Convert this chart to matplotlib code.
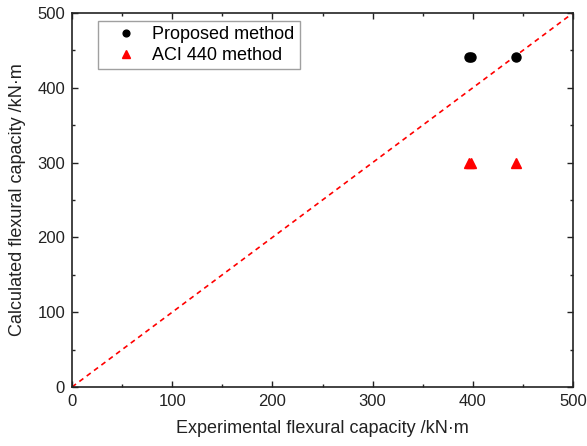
import numpy as np
import matplotlib
matplotlib.use('Agg')
import matplotlib.pyplot as plt
from matplotlib.ticker import MultipleLocator

plt.rcParams['font.family'] = ['Liberation Sans', 'DejaVu Sans']

exp_vals = [396, 398, 443]
proposed = [441, 441, 441]
aci440 = [300, 300, 300]
line_x = [0, 500]

fig = plt.figure(figsize=(5.87, 4.46), dpi=100)
ax = fig.add_axes([72 / 587, 59 / 446, 501 / 587, 374 / 446])

ax.plot(line_x, line_x, color='red', linestyle=(0, (3, 2.5)), linewidth=1.2, zorder=1)
ax.plot(exp_vals, proposed, 'o', color='black', markersize=6.5, linestyle='none',
        label='Proposed method', zorder=3)
ax.plot(exp_vals, aci440, '^', color='red', markersize=7, linestyle='none',
        label='ACI 440 method', zorder=3)

ax.set_xlim(0, 500)
ax.set_ylim(0, 500)
ax.xaxis.set_major_locator(MultipleLocator(100))
ax.yaxis.set_major_locator(MultipleLocator(100))
ax.xaxis.set_minor_locator(MultipleLocator(50))
ax.yaxis.set_minor_locator(MultipleLocator(50))
ax.tick_params(which='both', direction='in', top=True, right=True, labelsize=12,
               colors='#222222', pad=5)
ax.tick_params(which='major', length=4, width=1)
ax.tick_params(which='minor', length=2.5, width=1)
for s in ax.spines.values():
    s.set_linewidth(1.2)
    s.set_color('#222222')

ax.set_xlabel('Experimental flexural capacity /kN·m', fontsize=13, color='#222222', labelpad=8)
ax.set_ylabel('Calculated flexural capacity /kN·m', fontsize=13, color='#222222', labelpad=8)

leg = ax.legend(loc='upper left', bbox_to_anchor=(0.052, 0.979), fontsize=13, frameon=True,
                fancybox=False, edgecolor='#888888', handletextpad=0.2, borderpad=0.3,
                labelspacing=0.2, handlelength=2.5, markerscale=0.75, borderaxespad=0)
leg.get_frame().set_linewidth(1.0)

fig.savefig('out.png', dpi=100)
